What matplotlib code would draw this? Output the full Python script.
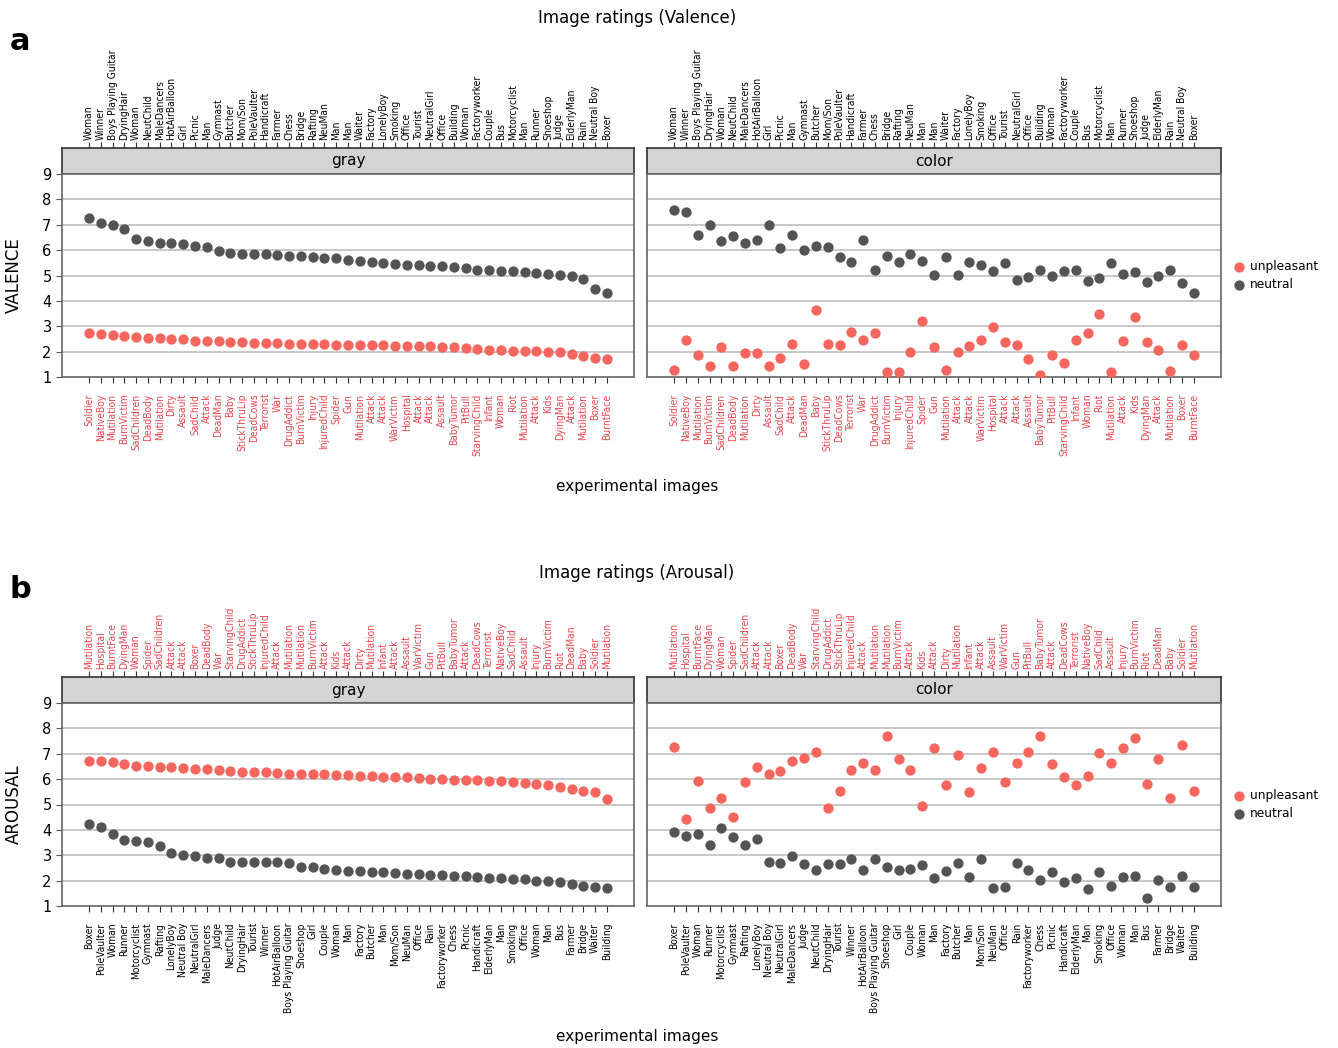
import matplotlib
matplotlib.use('Agg')
import matplotlib.pyplot as plt

# ---- data ----
valence_top_labels = ['Woman', 'Winner', 'Boys Playing Guitar', 'DryingHair', 'Woman', 'NeutChild',
                      'MaleDancers', 'HotAirBalloon', 'Girl', 'Picnic', 'Man', 'Gymnast', 'Butcher',
                      'Mom/Son', 'PoleVaulter', 'Handicraft', 'Farmer', 'Chess', 'Bridge', 'Rafting',
                      'NeuMan', 'Man', 'Man', 'Waiter', 'Factory', 'LonelyBoy', 'Smoking', 'Office',
                      'Tourist', 'NeutralGirl', 'Office', 'Building', 'Woman', 'Factoryworker', 'Couple',
                      'Bus', 'Motorcyclist', 'Man', 'Runner', 'Shoeshop', 'Judge', 'ElderlyMan', 'Rain',
                      'Neutral Boy', 'Boxer']
valence_bottom_labels = ['Soldier', 'NativeBoy', 'Mutilation', 'BurnVictim', 'SadChildren', 'DeadBody',
                         'Mutilation', 'Dirty', 'Assault', 'SadChild', 'Attack', 'DeadMan', 'Baby',
                         'StickThruLip', 'DeadCows', 'Terrorist', 'War', 'DrugAddict', 'BurnVictim',
                         'Injury', 'InjuredChild', 'Spider', 'Gun', 'Mutilation', 'Attack', 'Attack',
                         'WarVictim', 'Hospital', 'Attack', 'Attack', 'Assault', 'BabyTumor', 'PitBull',
                         'StarvingChild', 'Infant', 'Woman', 'Riot', 'Mutilation', 'Attack', 'Kids',
                         'DyingMan', 'Attack', 'Mutilation', 'Boxer', 'BurntFace']

val_gray_neutral = [7.28, 7.05, 7.0, 6.82, 6.45, 6.35, 6.3, 6.28, 6.25, 6.15, 6.13, 5.95, 5.88, 5.86,
                    5.85, 5.83, 5.8, 5.78, 5.76, 5.74, 5.7, 5.67, 5.63, 5.58, 5.53, 5.5, 5.47, 5.43,
                    5.41, 5.39, 5.36, 5.33, 5.29, 5.22, 5.2, 5.18, 5.17, 5.15, 5.1, 5.06, 5.03, 5.0,
                    4.88, 4.45, 4.33]
val_gray_unpl = [2.72, 2.68, 2.66, 2.6, 2.57, 2.55, 2.52, 2.5, 2.48, 2.42, 2.4, 2.4, 2.37, 2.36, 2.35,
                 2.34, 2.33, 2.32, 2.31, 2.3, 2.29, 2.28, 2.27, 2.26, 2.25, 2.25, 2.24, 2.23, 2.22,
                 2.21, 2.2, 2.17, 2.13, 2.1, 2.08, 2.05, 2.03, 2.02, 2.01, 2.0, 1.97, 1.9, 1.82,
                 1.75, 1.7]
val_color_neutral = [7.6, 7.51, 6.59, 6.98, 6.35, 6.54, 6.3, 6.41, 6.98, 6.07, 6.59, 6.01, 6.16, 6.12,
                     5.74, 5.55, 6.41, 5.22, 5.78, 5.55, 5.83, 5.59, 5.03, 5.74, 5.03, 5.55, 5.41,
                     5.19, 5.5, 4.82, 4.94, 5.22, 4.98, 5.17, 5.22, 4.78, 4.89, 5.5, 5.07, 5.12, 4.73,
                     4.98, 5.22, 4.69, 4.31]
val_color_unpl = [1.28, 2.44, 1.88, 1.45, 2.17, 1.45, 1.93, 1.93, 1.45, 1.74, 2.31, 1.51, 3.64, 2.31,
                  2.27, 2.78, 2.44, 2.74, 1.21, 1.21, 1.97, 3.2, 2.17, 1.28, 1.97, 2.22, 2.46, 2.98,
                  2.37, 2.27, 1.7, 1.09, 1.85, 1.56, 2.46, 2.74, 3.47, 1.18, 2.41, 3.36, 2.37, 2.07,
                  1.22, 2.27, 1.85]

arousal_top_labels = ['Mutilation', 'Hospital', 'BurntFace', 'DyingMan', 'Woman', 'Spider', 'SadChildren',
                      'Attack', 'Attack', 'Boxer', 'DeadBody', 'War', 'StarvingChild', 'DrugAddict',
                      'StickThruLip', 'InjuredChild', 'Attack', 'Mutilation', 'Mutilation', 'BurnVictim',
                      'Attack', 'Kids', 'Attack', 'Dirty', 'Mutilation', 'Infant', 'Attack', 'Assault',
                      'WarVictim', 'Gun', 'PitBull', 'BabyTumor', 'Attack', 'DeadCows', 'Terrorist',
                      'NativeBoy', 'SadChild', 'Assault', 'Injury', 'BurnVictim', 'Riot', 'DeadMan',
                      'Baby', 'Soldier', 'Mutilation']
arousal_bottom_labels = ['Boxer', 'PoleVaulter', 'Woman', 'Runner', 'Motorcyclist', 'Gymnast', 'Rafting',
                         'LonelyBoy', 'Neutral Boy', 'NeutralGirl', 'MaleDancers', 'Judge', 'NeutChild',
                         'DryingHair', 'Tourist', 'Winner', 'HotAirBalloon', 'Boys Playing Guitar',
                         'Shoeshop', 'Girl', 'Couple', 'Woman', 'Man', 'Factory', 'Butcher', 'Man',
                         'Mom/Son', 'NeuMan', 'Office', 'Rain', 'Factoryworker', 'Chess', 'Picnic',
                         'Handicraft', 'ElderlyMan', 'Man', 'Smoking', 'Office', 'Woman', 'Man', 'Bus',
                         'Farmer', 'Bridge', 'Waiter', 'Building']

aro_gray_unpl = [6.72, 6.7, 6.68, 6.58, 6.52, 6.5, 6.48, 6.47, 6.44, 6.4, 6.38, 6.35, 6.33, 6.3, 6.28,
                 6.27, 6.25, 6.22, 6.2, 6.2, 6.19, 6.18, 6.16, 6.14, 6.12, 6.1, 6.08, 6.07, 6.05, 6.02,
                 6.0, 5.98, 5.96, 5.95, 5.93, 5.92, 5.9, 5.85, 5.8, 5.75, 5.7, 5.62, 5.55, 5.5, 5.2]
aro_gray_neutral = [4.25, 4.1, 3.85, 3.62, 3.55, 3.52, 3.38, 3.1, 3.02, 2.98, 2.9, 2.88, 2.75, 2.72,
                    2.72, 2.72, 2.72, 2.68, 2.55, 2.52, 2.45, 2.4, 2.38, 2.37, 2.35, 2.33, 2.3, 2.27,
                    2.25, 2.23, 2.22, 2.2, 2.18, 2.15, 2.12, 2.1, 2.07, 2.05, 2.0, 1.97, 1.93, 1.85,
                    1.8, 1.73, 1.72]
aro_color_unpl = [7.26, 4.44, 5.93, 4.86, 5.26, 4.49, 5.87, 6.49, 6.22, 6.31, 6.73, 6.82, 7.06, 4.86,
                  5.55, 6.35, 6.64, 6.35, 7.69, 6.78, 6.35, 4.96, 7.22, 5.77, 6.97, 5.49, 6.45, 7.06,
                  5.87, 6.64, 7.06, 7.69, 6.6, 6.07, 5.78, 6.11, 7.02, 6.64, 7.22, 7.64, 5.82, 6.78,
                  5.26, 7.36, 5.55]
aro_color_neutral = [3.9, 3.75, 3.85, 3.42, 4.09, 3.71, 3.42, 3.66, 2.75, 2.71, 2.96, 2.66, 2.42, 2.66,
                     2.66, 2.86, 2.42, 2.86, 2.53, 2.42, 2.46, 2.62, 2.09, 2.38, 2.71, 2.15, 2.86, 1.7,
                     1.75, 2.71, 2.42, 2.04, 2.33, 1.95, 2.09, 1.66, 2.33, 1.8, 2.15, 2.19, 1.33, 2.04,
                     1.75, 2.19, 1.75]

RED = '#f4665e'
DARK = '#545454'
LABEL_RED = '#e8474e'

W, H = 1338, 1048
fig = plt.figure(figsize=(W / 100, H / 100), dpi=100)


def rect(x0, y0, x1, y1):
    return [x0 / W, 1 - y1 / H, (x1 - x0) / W, (y1 - y0) / H]


lab_kw = dict(fontsize=7.4, fontstretch='condensed', family='DejaVu Sans')


def panel(x0, x1, ytop, name, unpl, neut, top_labels, bottom_labels, top_color, bottom_color,
          show_y, legend):
    strip = fig.add_axes(rect(x0, ytop, x1, ytop + 26))
    ax = fig.add_axes(rect(x0, ytop + 26, x1, ytop + 229))
    pos = list(range(len(unpl)))

    strip.set_facecolor('#d4d4d4')
    strip.set_xlim(-2.3, 46.3)
    strip.set_ylim(0, 1)
    strip.set_yticks([])
    strip.xaxis.tick_top()
    strip.set_xticks(pos)
    strip.set_xticklabels(top_labels, rotation=90, color=top_color, **lab_kw)
    strip.tick_params(axis='x', length=4, width=0.8, color='#333333', pad=2)
    strip.text(0.5, 0.5, name, transform=strip.transAxes, ha='center', va='center', fontsize=11)
    for s in strip.spines.values():
        s.set_color('#333333')
        s.set_linewidth(1.2)

    ax.scatter(pos, unpl, s=55, color=RED, zorder=3, label='unpleasant', linewidths=0)
    ax.scatter(pos, neut, s=55, color=DARK, zorder=3, label='neutral', linewidths=0)
    ax.set_xlim(-2.3, 46.3)
    ax.set_ylim(1, 9)
    ax.set_yticks(range(1, 10))
    for g in range(2, 9):
        ax.axhline(g, color='#c4c4c4', lw=1.3, zorder=1)
    ax.set_xticks(pos)
    ax.set_xticklabels(bottom_labels, rotation=90, color=bottom_color, **lab_kw)
    ax.tick_params(axis='x', length=4, width=0.8, color='#333333', pad=8)
    if show_y:
        ax.tick_params(axis='y', length=4, labelsize=10.5, color='#555555')
    else:
        ax.tick_params(axis='y', length=0, labelleft=False)
    for s in ax.spines.values():
        s.set_color('#666666')
        s.set_linewidth(1.2)
    if legend:
        ax.legend(loc='center left', bbox_to_anchor=(1.0, 0.5), frameon=False, fontsize=8.8,
                  handletextpad=0.2, handlelength=1.5, borderaxespad=0.3, labelspacing=0.45)
    return ax


# panel a: valence
ax = panel(62, 634, 148, 'gray', val_gray_unpl, val_gray_neutral, valence_top_labels,
           valence_bottom_labels, 'black', LABEL_RED, True, False)
ax.set_ylabel('VALENCE', fontsize=12, labelpad=14)
panel(647, 1221, 148, 'color', val_color_unpl, val_color_neutral, valence_top_labels,
      valence_bottom_labels, 'black', LABEL_RED, False, True)

# panel b: arousal
ax = panel(62, 634, 677, 'gray', aro_gray_unpl, aro_gray_neutral, arousal_top_labels,
           arousal_bottom_labels, LABEL_RED, 'black', True, False)
ax.set_ylabel('AROUSAL', fontsize=12, labelpad=14)
panel(647, 1221, 677, 'color', aro_color_unpl, aro_color_neutral, arousal_top_labels,
      arousal_bottom_labels, LABEL_RED, 'black', False, True)

fig.text(637 / W, 1 - 18 / H, 'Image ratings (Valence)', ha='center', va='center', fontsize=12)
fig.text(637 / W, 1 - 573 / H, 'Image ratings (Arousal)', ha='center', va='center', fontsize=12)
fig.text(637 / W, 1 - 486 / H, 'experimental images', ha='center', va='center', fontsize=11)
fig.text(637 / W, 1 - 1036 / H, 'experimental images', ha='center', va='center', fontsize=11)
fig.text(10 / W, 1 - 42 / H, 'a', ha='left', va='center', fontsize=22, fontweight='bold')
fig.text(10 / W, 1 - 590 / H, 'b', ha='left', va='center', fontsize=22, fontweight='bold')

fig.savefig('out.png', dpi=100)
